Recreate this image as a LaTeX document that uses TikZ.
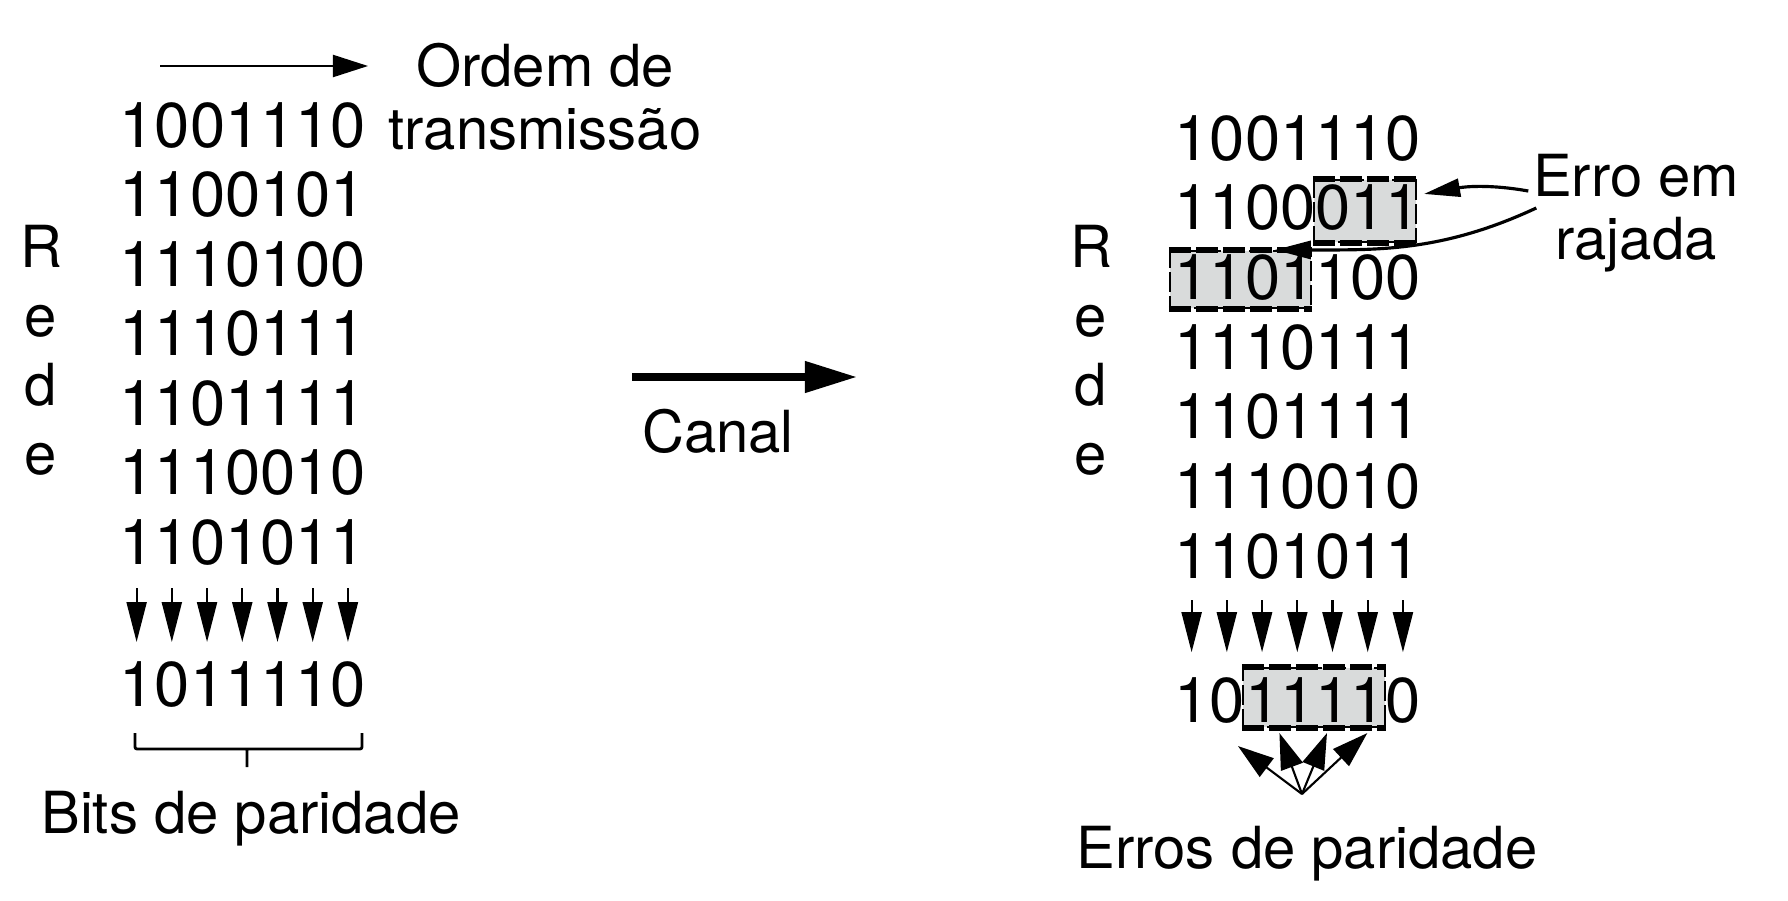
\documentclass[tikz,border=0pt]{standalone}
\usepackage{fontspec}
\setmainfont{TeX Gyre Heros}
\usetikzlibrary{arrows.meta, calc, fit}
\definecolor{boxgray}{RGB}{217,219,219}
\tikzset{bits/.style={font=\fontsize{18pt}{20pt}\selectfont, inner sep=0pt, anchor=base west},
  txt/.style={font=\fontsize{16.5pt}{18pt}\selectfont, inner sep=0pt, align=center},
  burst/.style={draw, fill=boxgray, inner sep=0pt, line width=0.6pt, dash pattern=on 0.2cm off 0.04cm},
  burstedge/.style={line width=1.5pt, dash pattern=on 0.22cm off 0.05cm},
  ordarrow/.style={-{Triangle[length=0.35cm, width=0.22cm]}, line width=0.6pt},
  chanarrow/.style={-{Triangle[length=0.52cm, width=0.3cm]}, line width=2.1pt},
  colarrow/.style={-{Triangle[length=0.4cm, width=0.2cm]}, line width=0.6pt},
  errarrow/.style={-{Triangle[length=0.36cm, width=0.18cm]}, line width=0.9pt},
  pararrow/.style={-{Triangle[length=0.36cm, width=0.23cm]}, line width=0.6pt},
  brace/.style={line width=0.8pt, rounded corners=0.02cm},
}

\begin{document}
\begin{tikzpicture}[x=0.01cm, y=-0.01cm]
        \useasboundingbox (0,0) rectangle (1788,900);

        % sender
        \node[txt, anchor=north] (order) at (545,42) {Ordem de\\transmissão};
        \coordinate (ordA) at (160,66);
        \coordinate (ordB) at (368,66);
        \foreach \row [count=\i] in {1001110,1100101,1110100,1110111,1101111,1110010,1101011}
                \node[bits] (l\i) at (119,{147+69.5*(\i-1)}) {\row};
        \node[bits] (lpar) at (119,706) {1011110};
        \foreach \ch [count=\i] in {R,e,d,e}
                \node[txt, anchor=base] (lnet\i) at (41,{267+69.3*(\i-1)}) {\ch};
        \node[txt, anchor=base] (lbits) at (251,833) {Bits de paridade};
        \draw[brace] (135,733) -- (135,749) -- (362,749) -- (362,733)
                     (247,749) -- (247,767);

        % channel
        \node[txt, anchor=base] (canal) at (718,452) {Canal};
        \coordinate (chA) at (632,377);
        \coordinate (chB) at (857,377);

        % receiver
        \node[burst, fit={(1314,180) (1416,242)}] (b2) {};
        \node[burst, fit={(1170,251) (1311,308)}] (b3) {};
        \node[burst, fit={(1243,668) (1385,727)}] (bp) {};
        \foreach \b in {b2,b3,bp}
                \draw[burstedge] (\b.north west) -- (\b.north east)
                                 (\b.south west) -- (\b.south east);
        \foreach \row [count=\i] in {1001110,1100011,1101100,1110111,1101111,1110010,1101011}
                \node[bits] (r\i) at (1174,{160+69.7*(\i-1)}) {\row};
        \node[bits] (rpar) at (1174,722) {1011110};
        \foreach \ch [count=\i] in {R,e,d,e}
                \node[txt, anchor=base] (rnet\i) at (1091,{267+69.3*(\i-1)}) {\ch};
        \node[txt, anchor=north] (errlbl) at (1636,153) {Erro em\\rajada};
        \node[txt, anchor=base] (rerrs) at (1307,868) {Erros de paridade};
        \coordinate (fan) at (1302,794);

        \draw[ordarrow] (ordA) -- (ordB);
        \draw[chanarrow] (chA) -- (chB);
        \foreach \k in {0,...,6} {
                \draw[colarrow] ([xshift={(\k+0.5)*0.352cm}, yshift=-0.24cm]l7.base west) -- ++(0,54);
                \draw[colarrow] ([xshift={(\k+0.5)*0.352cm}, yshift=-0.22cm]r7.base west) -- ++(0,52);
        }
        \draw[errarrow] ([shift={(-4,38)}]errlbl.north west) to[out=170, in=10] ($(b2.north east)+(7,15)$);
        \draw[errarrow] ([shift={(4,55)}]errlbl.north west) to[out=205, in=0] ($(b3.north west)!0.74!(b3.north east)$);
        \draw[pararrow] (fan) -- ($(bp.south west)+(-4,18)$);
        \draw[pararrow] (fan) -- ($(bp.south west)!0.26!(bp.south east)+(0,5)$);
        \draw[pararrow] (fan) -- ($(bp.south west)!0.59!(bp.south east)+(0,5)$);
        \draw[pararrow] (fan) -- ($(bp.south west)!0.87!(bp.south east)+(0,5)$);
\end{tikzpicture}
\end{document}
